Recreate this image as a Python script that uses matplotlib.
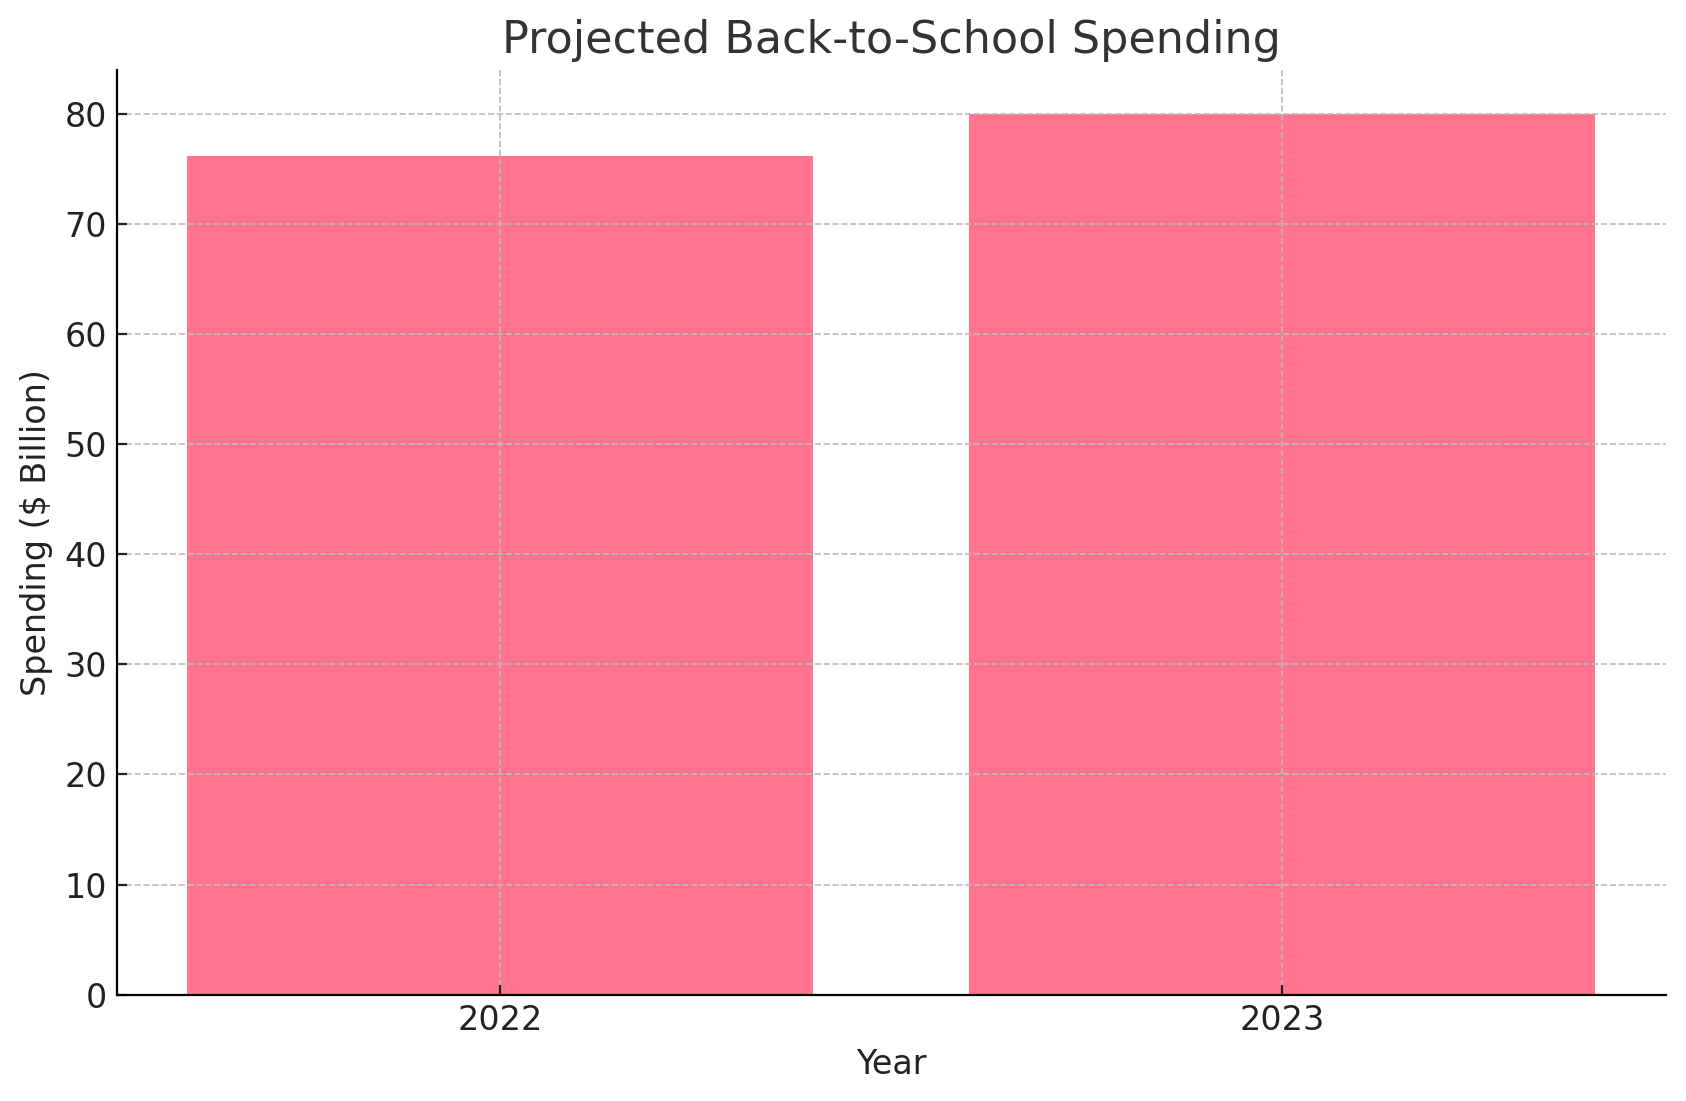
import matplotlib
matplotlib.use("Agg")
import matplotlib.pyplot as plt

years = ["2022", "2023"]
spending = [76.2, 80.0]

fig = plt.figure(figsize=(8.43, 5.505), dpi=200)
ax = fig.add_axes([0.0692, 0.0966, 0.9188, 0.8398])
ax.bar(years, spending, color="#FF738F", width=0.8, zorder=1)
ax.set_title("Projected Back-to-School Spending", fontsize=16, color="#333333")
ax.set_xlabel("Year", fontsize=12, color="#222222")
ax.set_ylabel("Spending ($ Billion)", fontsize=12, color="#222222")
ax.tick_params(labelsize=12, colors="#222222", direction="in")
ax.grid(True, linestyle="--", color="#bbbbbb", linewidth=0.6, zorder=0)
ax.set_axisbelow(False)
for s in ["top", "right"]:
    ax.spines[s].set_visible(False)
for s in ["left", "bottom"]:
    ax.spines[s].set_zorder(5)
ax.set_yticks(range(0, 81, 10))
fig.savefig("out.png", dpi=200)
